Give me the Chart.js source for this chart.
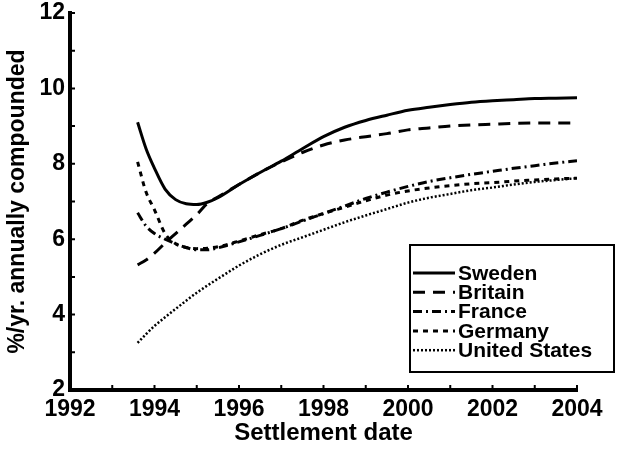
<!DOCTYPE html>
<html>
<head>
<meta charset="utf-8">
<script src="https://cdn.jsdelivr.net/npm/chart.js@4.4.0/dist/chart.umd.min.js"></script>
<style>
  html, body { margin: 0; padding: 0; background: #fff; }
  #wrap { width: 619px; height: 454px; position: relative; }
</style>
</head>
<body>
<div id="wrap"><canvas id="myChart"></canvas></div>
<script>
  // settlement dates (years)
  const dates = [1993.6, 1993.8, 1994, 1994.25, 1994.5, 1994.75, 1995, 1995.25, 1995.5,
    1996, 1996.5, 1997, 1997.5, 1998, 1998.5, 1999, 1999.5, 2000, 2000.5,
    2001, 2001.5, 2002, 2002.5, 2003, 2003.5, 2004];

  // %/yr, annually compounded
  const sweden = [9.1, 8.4, 7.88, 7.33, 7.05, 6.94, 6.92, 6.98, 7.1,
    7.45, 7.77, 8.07, 8.4, 8.72, 8.97, 9.15, 9.29, 9.42, 9.5,
    9.57, 9.63, 9.67, 9.7, 9.73, 9.74, 9.75];
  const britain = [5.32, 5.45, 5.63, 5.9, 6.15, 6.4, 6.65, 6.95, 7.12,
    7.45, 7.77, 8.05, 8.3, 8.5, 8.63, 8.72, 8.8, 8.9, 8.95,
    9.0, 9.03, 9.05, 9.07, 9.08, 9.08, 9.08];
  const france = [6.7, 6.35, 6.15, 6.0, 5.88, 5.78, 5.72, 5.72, 5.77,
    5.93, 6.1, 6.28, 6.48, 6.68, 6.88, 7.08, 7.25, 7.4, 7.53,
    7.63, 7.72, 7.8, 7.88, 7.95, 8.02, 8.08];
  const germany = [8.05, 7.25, 6.78, 6.15, 5.88, 5.78, 5.75, 5.76, 5.8,
    5.95, 6.12, 6.28, 6.5, 6.68, 6.85, 7.02, 7.17, 7.28, 7.36,
    7.42, 7.47, 7.5, 7.54, 7.57, 7.6, 7.62];
  const unitedStates = [3.25, 3.48, 3.7, 3.93, 4.15, 4.37, 4.58, 4.77, 4.95,
    5.3, 5.6, 5.85, 6.05, 6.25, 6.45, 6.63, 6.8, 6.97, 7.1,
    7.2, 7.3, 7.37, 7.45, 7.52, 7.57, 7.62];

  const seriesNames = ['Sweden', 'Britain', 'France', 'Germany', 'United States'];

  const FONT = '"Liberation Sans", Arial, sans-serif';

  function pts(vals) {
    return dates.map((d, i) => ({ x: d, y: vals[i] }));
  }

  function line(label, vals, dash, width) {
    return {
      label: label,
      data: pts(vals),
      borderColor: '#000',
      backgroundColor: '#000',
      borderWidth: width,
      borderDash: dash,
      pointRadius: 0,
      cubicInterpolationMode: 'monotone',
      fill: false,
    };
  }

  // small inward ticks, every year / every unit
  const axisTicks = {
    id: 'axisTicks',
    afterDraw(chart) {
      const { ctx, scales: { x, y } } = chart;
      ctx.save();
      ctx.strokeStyle = '#000';
      ctx.lineWidth = 2;
      ctx.beginPath();
      for (let v = x.min; v <= x.max; v++) {
        const px = x.getPixelForValue(v);
        ctx.moveTo(px, y.bottom);
        ctx.lineTo(px, y.bottom - 5);
      }
      for (let v = y.min; v <= y.max; v++) {
        const py = y.getPixelForValue(v);
        ctx.moveTo(x.left, py);
        ctx.lineTo(x.left + 5, py);
      }
      ctx.stroke();
      ctx.restore();
    }
  };

  // boxed legend sitting inside the plot
  const legendBox = {
    id: 'legendBox',
    afterDraw(chart) {
      const ctx = chart.ctx;
      ctx.save();
      ctx.fillStyle = '#fff';
      ctx.fillRect(410, 245, 204, 127);
      ctx.strokeStyle = '#000';
      ctx.lineWidth = 2;
      ctx.strokeRect(410, 245, 204, 127);
      ctx.font = 'bold 21px ' + FONT;
      ctx.textBaseline = 'middle';
      ctx.fillStyle = '#000';
      chart.data.datasets.forEach((ds, i) => {
        const yy = 273 + i * 19.3;
        ctx.setLineDash(ds.borderDash || []);
        ctx.lineWidth = ds.borderWidth;
        ctx.beginPath();
        ctx.moveTo(413, yy);
        ctx.lineTo(455, yy);
        ctx.stroke();
        ctx.setLineDash([]);
        ctx.fillText(ds.label, 458, yy + 1);
      });
      ctx.restore();
    }
  };

  const config = {
    type: 'line',
    data: {
      datasets: [
        line(seriesNames[0], sweden, [], 3),
        line(seriesNames[1], britain, [12, 8], 3),
        line(seriesNames[2], france, [9, 4, 2, 4], 3),
        line(seriesNames[3], germany, [5, 5], 3),
        line(seriesNames[4], unitedStates, [2, 2], 2.5),
      ]
    },
    options: {
      responsive: true,
      maintainAspectRatio: false,
      animation: false,
      layout: { padding: { top: 13, right: 42, left: 0, bottom: 0 } },
      plugins: {
        legend: { display: false },
        tooltip: { enabled: false },
      },
      scales: {
        x: {
          type: 'linear',
          min: 1992,
          max: 2004,
          grid: { display: false },
          border: { display: true, color: '#000', width: 4 },
          ticks: {
            stepSize: 2,
            padding: -2,
            color: '#000',
            font: { family: FONT, size: 23, weight: 'bold' },
            callback: v => String(v),
          },
          title: {
            display: true,
            text: 'Settlement date',
            color: '#000',
            font: { family: FONT, size: 24, weight: 'bold' },
            padding: { top: 0, bottom: 6 },
          },
          afterFit: s => { s.height = 64; },
        },
        y: {
          min: 2,
          max: 12,
          grid: { display: false },
          border: { display: true, color: '#000', width: 4 },
          ticks: {
            stepSize: 2,
            padding: -3,
            color: '#000',
            font: { family: FONT, size: 23, weight: 'bold' },
          },
          title: {
            display: true,
            text: '%/yr. annually compounded',
            color: '#000',
            font: { family: FONT, size: 23, weight: 'bold' },
            padding: { top: 4, bottom: 0 },
          },
          afterFit: s => { s.width = 70; },
        }
      }
    },
    plugins: [axisTicks, legendBox]
  };

  const myChart = new Chart(document.getElementById('myChart'), config);
</script>
</body>
</html>
